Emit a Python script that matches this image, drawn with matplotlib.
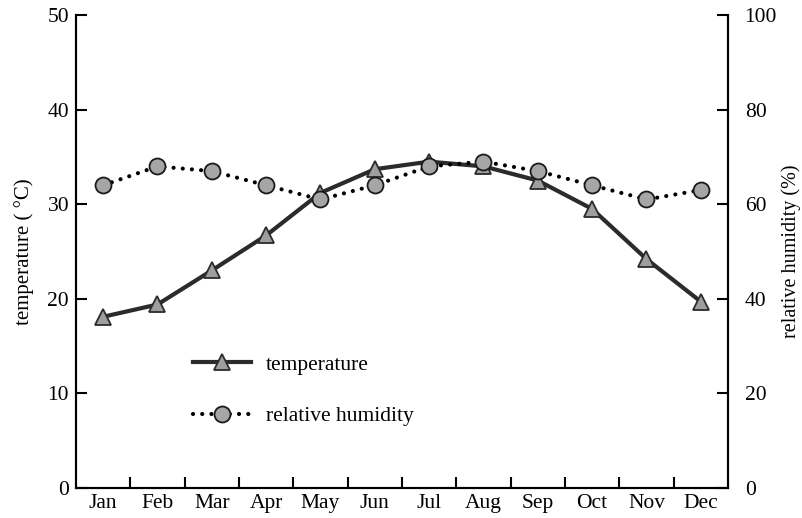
import matplotlib.pyplot as plt
import numpy as np

plt.rcParams['font.family'] = ['Liberation Serif', 'DejaVu Serif']

months = ["Jan", "Feb", "Mar", "Apr", "May", "Jun",
          "Jul", "Aug", "Sep", "Oct", "Nov", "Dec"]
temperature = [18.1, 19.4, 23.0, 26.7, 31.2, 33.7, 34.5, 34.0, 32.5, 29.5, 24.2, 19.7]
humidity = [64, 68, 67, 64, 61, 64, 68, 69, 67, 64, 61, 63]

fig = plt.figure(figsize=(8.03, 5.18), dpi=100)
ax = fig.add_axes([0.0946, 0.0579, 0.812, 0.9131])
ax2 = ax.twinx()

x = np.arange(len(months))

l1, = ax.plot(x, temperature, color="#2b2b2b", lw=3.0,
              marker="^", ms=12, mfc="#9e9e9e", mec="#2b2b2b", mew=1.3,
              label="temperature")
l2, = ax2.plot(x, humidity, color="black", lw=3.0,
               linestyle=(0, (0.01, 2.2)), dash_capstyle="round",
               marker="o", ms=11.5, mfc="#a6a6a6", mec="#1a1a1a", mew=1.3,
               label="relative humidity")

ax.set_xlim(-0.5, 11.5)
ax.set_ylim(0, 50)
ax2.set_ylim(0, 100)
ax.set_yticks([0, 10, 20, 30, 40, 50])
ax2.set_yticks([0, 20, 40, 60, 80, 100])

# ticks between months, labels centred on months
ax.set_xticks(x[:-1] + 0.5)
ax.set_xticklabels([])
ax.set_xticks(x, minor=True)
ax.set_xticklabels(months, minor=True)
ax.tick_params(axis="x", which="major", direction="in", length=8, width=1.5)
ax.tick_params(axis="x", which="minor", length=0, pad=4, labelsize=15.5)
ax.tick_params(axis="y", direction="in", length=8, width=1.5, pad=5, labelsize=15.5)
ax2.tick_params(axis="y", direction="in", length=8, width=1.5, pad=12, labelsize=15.5)

for a in (ax, ax2):
    a.spines["top"].set_visible(False)
    for s in ("left", "right", "bottom"):
        a.spines[s].set_linewidth(1.5)

ax.set_ylabel("temperature ( °C)", fontsize=15, labelpad=10)
ax2.set_ylabel("relative humidity (%)", fontsize=14.5, labelpad=3)

ax.legend([l1, l2], ["temperature", "relative humidity"],
          loc="center left", bbox_to_anchor=(0.179, 0.206),
          frameon=False, fontsize=15.5, handlelength=2.7, handletextpad=0.7,
          labelspacing=1.45, borderpad=0, borderaxespad=0)

fig.savefig("out.png", dpi=100)
